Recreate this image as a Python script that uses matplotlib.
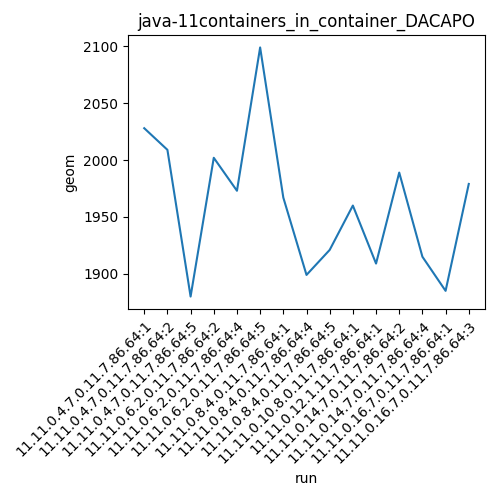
import matplotlib
matplotlib.use("Agg")
import matplotlib.pyplot as plt

runs = [
    "11.11.0.4.7.0.11.7.86.64:1",
    "11.11.0.4.7.0.11.7.86.64:2",
    "11.11.0.4.7.0.11.7.86.64:5",
    "11.11.0.6.2.0.11.7.86.64:2",
    "11.11.0.6.2.0.11.7.86.64:4",
    "11.11.0.6.2.0.11.7.86.64:5",
    "11.11.0.8.4.0.11.7.86.64:1",
    "11.11.0.8.4.0.11.7.86.64:4",
    "11.11.0.8.4.0.11.7.86.64:5",
    "11.11.0.10.8.0.11.7.86.64:1",
    "11.11.0.12.1.11.7.86.64:1",
    "11.11.0.14.7.0.11.7.86.64:2",
    "11.11.0.14.7.0.11.7.86.64:4",
    "11.11.0.16.7.0.11.7.86.64:1",
    "11.11.0.16.7.0.11.7.86.64:3",
]
geom = [2028, 2009, 1880, 2002, 1973, 2099, 1967, 1899, 1921, 1960,
        1909, 1989, 1915, 1885, 1979]

fig, ax = plt.subplots(figsize=(5, 5), dpi=100)
ax.plot(runs, geom)
ax.set_title("java-11containers_in_container_DACAPO")
ax.set_xlabel("run")
ax.set_ylabel("geom")
plt.setp(ax.get_xticklabels(), rotation=45, ha="right", rotation_mode="anchor")
fig.subplots_adjust(left=0.256, right=0.97, top=0.93, bottom=0.382)
fig.savefig("out.png")
